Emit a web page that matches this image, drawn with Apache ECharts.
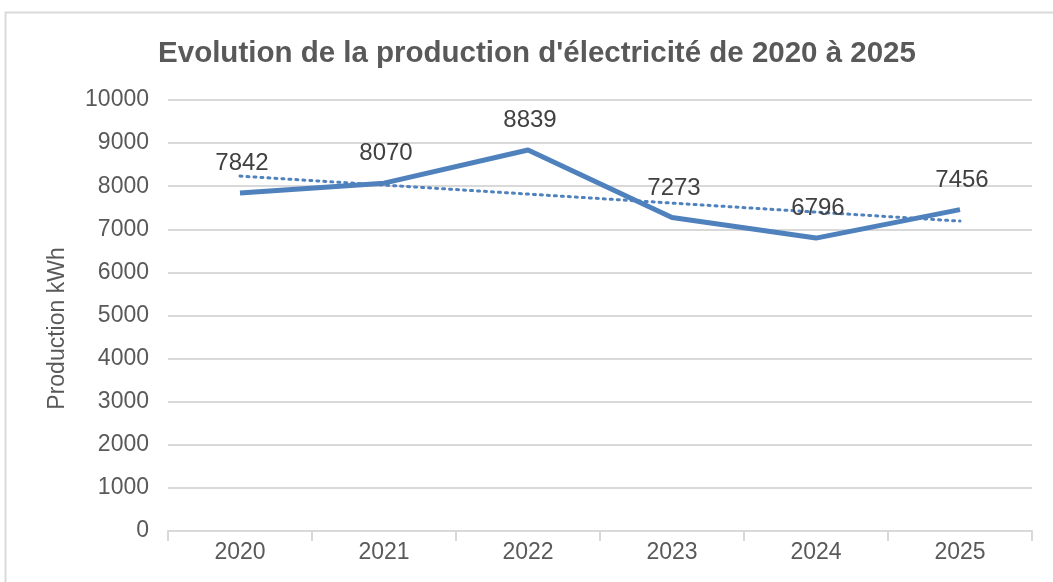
<!DOCTYPE html>
<html>
<head>
<meta charset="utf-8">
<script src="https://cdn.jsdelivr.net/npm/echarts@6/dist/echarts.min.js"></script>
<style>
  html, body { margin: 0; padding: 0; background: #fff; }
  #chart { width: 1053px; height: 582px; }
</style>
</head>
<body>
<div id="chart"></div>
<script>
// données
const years = ['2020', '2021', '2022', '2023', '2024', '2025']
const production = [7842, 8070, 8839, 7273, 6796, 7456]
// courbe de tendance (linéaire)
const trendValues = [8235, 8026, 7817, 7608, 7399, 7190]
const yTicks = { min: 0, max: 10000, interval: 1000 }

const chart = echarts.init(document.getElementById('chart'))
const grey = '#595959'
const font = 'Liberation Sans, Arial, sans-serif'

chart.setOption({
  animation: false,
  graphic: [{
    type: 'rect',
    shape: { x: 5.5, y: 12.5, width: 1060, height: 600 },
    style: { fill: 'none', stroke: '#d9d9d9', lineWidth: 2 }
  }],
  title: {
    text: "Evolution de la production d'électricité de 2020 à 2025",
    left: 532,
    textAlign: 'center',
    top: 34,
    textStyle: { color: grey, fontFamily: font, fontWeight: 'bold', fontSize: 29.5 }
  },
  grid: { left: 168, right: 21, top: 100, bottom: 51 },
  xAxis: {
    type: 'category',
    data: years,
    boundaryGap: true,
    axisLine: { lineStyle: { color: '#d9d9d9', width: 2 } },
    axisTick: { show: true, length: 10, lineStyle: { color: '#d9d9d9', width: 2 } },
    axisLabel: { color: grey, fontFamily: font, fontSize: 23, margin: 10 }
  },
  yAxis: {
    type: 'value',
    min: yTicks.min,
    max: yTicks.max,
    interval: yTicks.interval,
    name: 'Production kWh',
    nameLocation: 'middle',
    nameGap: 99,
    nameTextStyle: { color: grey, fontFamily: font, fontSize: 23, padding: [0, 26, 0, 0] },
    axisLine: { show: false },
    axisTick: { show: false },
    axisLabel: { color: grey, fontFamily: font, fontSize: 23, margin: 19, formatter: v => String(v) },
    splitLine: { lineStyle: { color: '#d9d9d9', width: 2 } }
  },
  series: [
    {
      name: 'Production',
      type: 'line',
      data: production,
      symbol: 'circle',
      symbolSize: 1,
      showSymbol: true,
      itemStyle: { color: 'rgba(79,129,189,0)', borderWidth: 0 },
      lineStyle: { color: '#4f81bd', width: 5 },
      label: {
        show: true,
        position: 'top',
        distance: 17,
        offset: [2, 0],
        color: '#404040',
        fontFamily: font,
        fontSize: 24
      },
      z: 3
    },
    {
      name: 'Tendance',
      type: 'line',
      data: trendValues,
      symbol: 'none',
      lineStyle: { color: '#4f81bd', width: 3, type: [2, 5], cap: 'round' },
      z: 2
    }
  ]
})
</script>
</body>
</html>
